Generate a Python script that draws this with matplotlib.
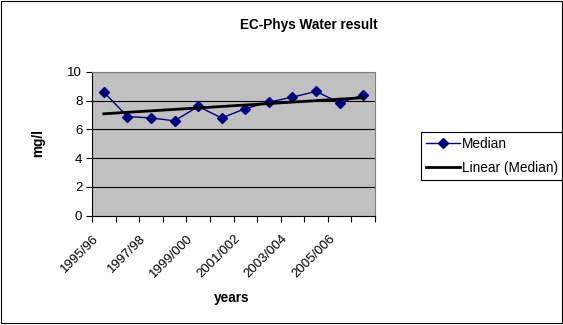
import matplotlib
matplotlib.use("Agg")
import matplotlib.pyplot as plt
import matplotlib.transforms as mtransforms
import numpy as np
from matplotlib.patches import Rectangle

categories = ["1995/96", "1996/97", "1997/98", "1998/99", "1999/000", "2000/001",
              "2001/002", "2002/003", "2003/004", "2004/005", "2005/006", "2006/007"]
median = [8.6, 6.9, 6.8, 6.6, 7.6, 6.8, 7.45, 7.9, 8.25, 8.65, 7.85, 8.4]
yticks = [0, 2, 4, 6, 8, 10]

plt.rcParams['font.family'] = ['Liberation Sans', 'DejaVu Sans']
FS = 9.8

fig = plt.figure(figsize=(5.63, 3.25), dpi=100)
ax = fig.add_axes([92/563, 1-215.6/325, (375-92)/563, (215.6-72)/325])
ax.set_facecolor('#C0C0C0')

x = np.arange(len(categories))
ax.plot(x, median, color='#000080', lw=1, marker='D', ms=5, mfc='#000080', mec='#000080', label='Median', zorder=3)
coef = np.polyfit(x, median, 1)
ax.plot(x, np.polyval(coef, x), color='black', lw=2, label='Linear (Median)', zorder=4)

ax.set_xlim(-0.5, len(categories) - 0.5)
ax.set_ylim(0, 10)
ax.set_yticks(yticks)
ax.set_yticklabels([str(v) for v in yticks], fontsize=9.5)
ax.yaxis.grid(True, color='black', lw=0.8)
ax.set_axisbelow(True)

ax.set_xticks(np.arange(len(categories) + 1) - 0.5)
ax.set_xticklabels([])
ax.tick_params(axis='x', length=4, direction='out')
ax.tick_params(axis='y', length=4, direction='out', pad=3)

trans = mtransforms.blended_transform_factory(ax.transData, ax.transAxes)
off = mtransforms.ScaledTranslation(-11/100, -17/100, fig.dpi_scale_trans)
for i in range(0, len(categories), 2):
    ax.text(i, 0, categories[i], rotation=45, ha='right', va='top',
            rotation_mode='anchor', fontsize=9.5, transform=trans + off)

for s in ['top', 'right']:
    ax.spines[s].set_color('#808080')
for s in ['left', 'bottom']:
    ax.spines[s].set_color('black')

fig.text(309/563, 1-25/325, 'EC-Phys Water result', fontsize=FS, fontweight='bold', ha='center', va='center')
fig.text(38/563, 1-143/325, 'mg/l', fontsize=FS, fontweight='bold', ha='center', va='center', rotation=90)
fig.text(232/563, 1-298/325, 'years', fontsize=FS, fontweight='bold', ha='center', va='center')

leg = ax.legend(loc='upper left', bbox_to_anchor=(421/563, 1-132/325), bbox_transform=fig.transFigure,
                fontsize=FS, frameon=True, fancybox=False, edgecolor='black', framealpha=1,
                borderpad=0.35, handlelength=2.5, handletextpad=0.15, labelspacing=0.75, borderaxespad=0)
leg.get_frame().set_linewidth(0.8)

fig.patches.append(Rectangle((0.001, 0.006), 0.997, 0.99, transform=fig.transFigure, fill=False,
                             edgecolor='black', lw=0.8))

fig.savefig('out.png', dpi=100)
